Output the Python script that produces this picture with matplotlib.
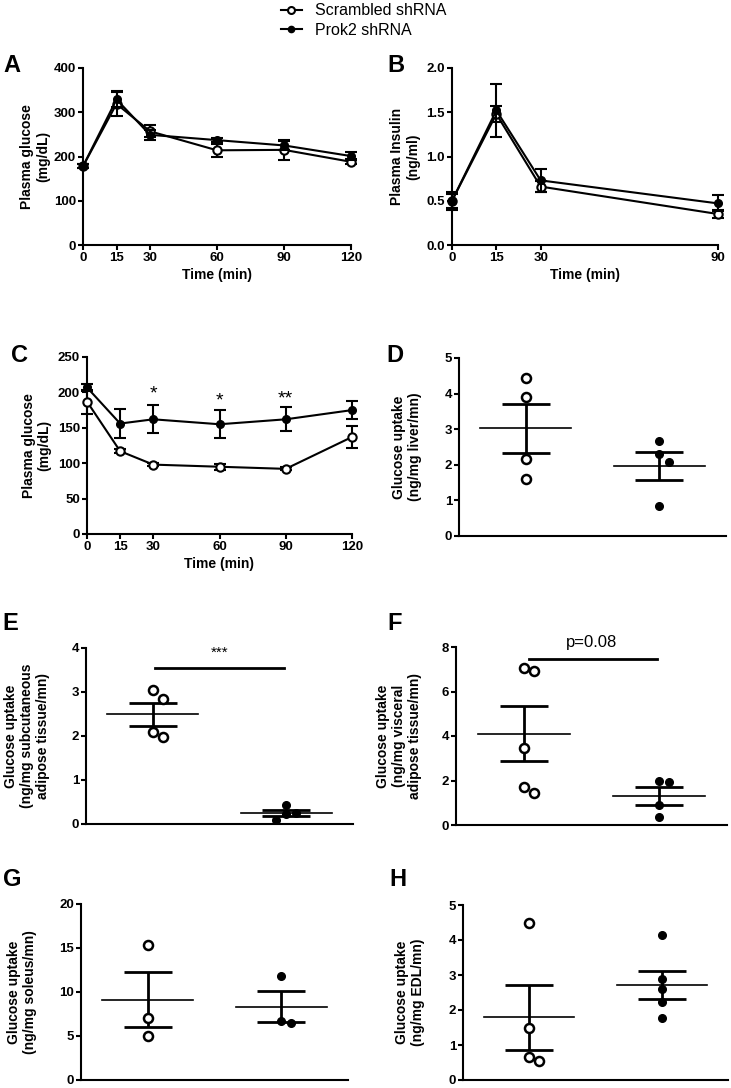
import numpy as np
import matplotlib
matplotlib.use("Agg")
import matplotlib.pyplot as plt
from matplotlib.lines import Line2D

plt.rcParams['font.family'] = ['Liberation Sans', 'DejaVu Sans']
plt.rcParams['font.weight'] = 'bold'
plt.rcParams['axes.labelweight'] = 'bold'

# ---------------- data ----------------
# A: glucose tolerance test
gtt_time = [0, 15, 30, 60, 90, 120]
gtt_scr = [178, 319, 257, 214, 215, 188]
gtt_scr_err = [5, 28, 14, 14, 22, 6]
gtt_prok = [178, 329, 249, 237, 225, 201]
gtt_prok_err = [5, 17, 12, 5, 10, 9]

# B: plasma insulin
ins_time = [0, 15, 30, 90]
ins_scr = [0.50, 1.48, 0.66, 0.35]
ins_scr_err = [0.08, 0.09, 0.06, 0.05]
ins_prok = [0.50, 1.52, 0.73, 0.47]
ins_prok_err = [0.10, 0.30, 0.13, 0.09]

# C: insulin tolerance test
itt_time = [0, 15, 30, 60, 90, 120]
itt_scr = [187, 117, 98, 95, 92, 137]
itt_scr_err = [17, 3, 2, 4, 2, 16]
itt_prok = [207, 156, 162, 155, 162, 175]
itt_prok_err = [5, 21, 20, 20, 17, 13]
itt_stars = [(30, 192, '*'), (60, 182, '*'), (90, 184, '**')]

# D-H: glucose uptake, scrambled vs prok2
liver_scr = [4.45, 3.90, 2.15, 1.60]
liver_prok = [2.67, 2.30, 2.07, 0.85]
subq_scr = [3.05, 2.85, 2.10, 1.97]
subq_prok = [0.43, 0.25, 0.22, 0.08]
visc_scr = [7.05, 6.90, 3.45, 1.70, 1.45]
visc_prok = [1.98, 1.94, 0.92, 0.38]
soleus_scr = [15.3, 7.1, 5.0]
soleus_prok = [11.85, 6.65, 6.5]
edl_scr = [4.5, 1.48, 0.65, 0.55]
edl_prok = [4.13, 2.9, 2.6, 2.22, 1.78]

W, H = 731, 1088
fig = plt.figure(figsize=(W / 100, H / 100), dpi=100)


def px_axes(l, r, t, b):
    return fig.add_axes([l / W, 1 - b / H, (r - l) / W, (b - t) / H])


def style(ax):
    for s in ['top', 'right']:
        ax.spines[s].set_visible(False)
    for s in ['left', 'bottom']:
        ax.spines[s].set_linewidth(1.5)
    ax.tick_params(width=1.5, length=3.5, labelsize=9.5, pad=1.5)


def time_panel(ax, t, s, se, p, pe, ymax, yticks, ylabel, xticks, xmax):
    ax.errorbar(t, s, yerr=se, fmt='-o', color='k', mfc='white', mec='k', ms=6,
                mew=1.5, lw=1.5, capsize=4, capthick=1.5, elinewidth=1.5, clip_on=False, zorder=3)
    ax.errorbar(t, p, yerr=pe, fmt='-o', color='k', ms=5.5, lw=1.5,
                capsize=4, capthick=1.5, elinewidth=1.5, clip_on=False, zorder=4)
    ax.set_xlim(0, xmax)
    ax.set_ylim(0, ymax)
    ax.set_xticks(xticks)
    ax.set_yticks(yticks)
    ax.set_xlabel('Time (min)', fontsize=10, labelpad=3)
    ax.set_ylabel(ylabel, fontsize=10)
    style(ax)


def swarm(vals, ppu_y, ppu_x, step=10, mind=9):
    placed, offs = [], []
    for v in vals:
        y = v * ppu_y
        for k in [0, 1, -1, 2, -2, 3, -3]:
            x = k * step
            if all(np.hypot(x - a, y - b) >= mind for a, b in placed):
                break
        placed.append((x, y))
        offs.append(x / ppu_x)
    return np.array(offs)


def dot_panel(ax, g1, g2, ymax, yticks, ylabel):
    ax.set_xlim(-0.5, 1.5)
    ax.set_ylim(0, ymax)
    pos = ax.get_position()
    ppu_y = pos.height * H / ymax
    ppu_x = pos.width * W / 2.0
    for i, vals in enumerate([g1, g2]):
        vals = np.array(vals)
        xs = i + swarm(vals, ppu_y, ppu_x)
        if i == 0:
            ax.plot(xs, vals, 'o', mfc='white', mec='k', mew=1.8, ms=6.5, ls='none', clip_on=False, zorder=3)
        else:
            ax.plot(xs, vals, 'o', color='k', ms=5.5, ls='none', clip_on=False, zorder=3)
        m = vals.mean()
        sem = vals.std(ddof=1) / np.sqrt(len(vals))
        ax.plot([i - 0.34, i + 0.34], [m, m], color='k', lw=1.2, zorder=2)
        ax.errorbar([i], [m], yerr=[sem], fmt='none', ecolor='k', elinewidth=2,
                    capsize=17, capthick=2, zorder=2)
    ax.set_xticks([])
    ax.set_yticks(yticks)
    ax.set_ylabel(ylabel, fontsize=10)
    style(ax)


def place_ylabel(ax, x):
    ax.yaxis.label.set_va('center')
    ax.yaxis.set_label_coords(x, 0.5)


# A
axA = px_axes(83, 351, 68, 245)
time_panel(axA, gtt_time, gtt_scr, gtt_scr_err, gtt_prok, gtt_prok_err,
           400, [0, 100, 200, 300, 400], 'Plasma glucose\n(mg/dL)', gtt_time, 120)
place_ylabel(axA, -0.18)

# B
axB = px_axes(452, 718, 68, 245)
time_panel(axB, ins_time, ins_scr, ins_scr_err, ins_prok, ins_prok_err,
           2.0, [0.0, 0.5, 1.0, 1.5, 2.0], 'Plasma Insulin\n(ng/ml)', ins_time, 90)
axB.set_yticklabels(['0.0', '0.5', '1.0', '1.5', '2.0'])
place_ylabel(axB, -0.177)

# C
axC = px_axes(87, 352, 357, 534)
time_panel(axC, itt_time, itt_scr, itt_scr_err, itt_prok, itt_prok_err,
           250, [0, 50, 100, 150, 200, 250], 'Plasma glucose\n(mg/dL)', itt_time, 120)
place_ylabel(axC, -0.19)
for tx, ty, s in itt_stars:
    axC.text(tx, ty, s, ha='center', va='baseline', fontsize=14, fontweight='normal')

# D
axD = px_axes(459, 726, 358, 536)
dot_panel(axD, liver_scr, liver_prok, 5, [0, 1, 2, 3, 4, 5], 'Glucose uptake\n(ng/mg liver/mn)')
place_ylabel(axD, -0.195)

# E
axE = px_axes(86, 353, 648, 824)
dot_panel(axE, subq_scr, subq_prok, 4, [0, 1, 2, 3, 4],
          'Glucose uptake\n(ng/mg subcutaneous\nadipose tissue/mn)')
place_ylabel(axE, -0.22)
axE.plot([0.02, 0.98], [3.55, 3.55], color='k', lw=2)
axE.text(0.5, 3.8, '***', ha='center', va='baseline', fontsize=11, fontweight='normal')

# F
axF = px_axes(456, 727, 647, 825)
dot_panel(axF, visc_scr, visc_prok, 8, [0, 2, 4, 6, 8],
          'Glucose uptake\n(ng/mg visceral\nadipose tissue/mn)')
place_ylabel(axF, -0.21)
axF.plot([0.04, 0.98], [7.48, 7.48], color='k', lw=2)
axF.text(0.5, 8.0, 'p=0.08', ha='center', va='baseline', fontsize=12, fontweight='normal')

# G
axG = px_axes(81, 348, 904, 1080)
dot_panel(axG, soleus_scr, soleus_prok, 20, [0, 5, 10, 15, 20],
          'Glucose uptake\n(ng/mg soleus/mn)')
place_ylabel(axG, -0.22)

# H
axH = px_axes(463, 728, 905, 1080)
dot_panel(axH, edl_scr, edl_prok, 5, [0, 1, 2, 3, 4, 5],
          'Glucose uptake\n(ng/mg EDL/mn)')
place_ylabel(axH, -0.2)

# panel letters
letters = [('A', 3, 65), ('B', 387, 65), ('C', 11, 355), ('D', 386, 355),
           ('E', 2, 623), ('F', 387, 623), ('G', 3, 880), ('H', 389, 880)]
for s, x, y in letters:
    fig.text(x / W, 1 - y / H, s, fontsize=17, fontweight='bold', ha='left', va='center')

# legend
handles = [Line2D([], [], color='k', lw=1.5, marker='o', mfc='white', mec='k', ms=5, mew=1.5),
           Line2D([], [], color='k', lw=1.5, marker='o', ms=4.5)]
fig.legend(handles, ['Scrambled shRNA', 'Prok2 shRNA'], loc='upper left',
           bbox_to_anchor=(281 / W, 0.997), frameon=False, borderpad=0, borderaxespad=0,
           handlelength=1.3, handletextpad=0.85, labelspacing=0.3,
           prop={'size': 11.5, 'weight': 'normal'})

fig.savefig('out.png', dpi=100)
